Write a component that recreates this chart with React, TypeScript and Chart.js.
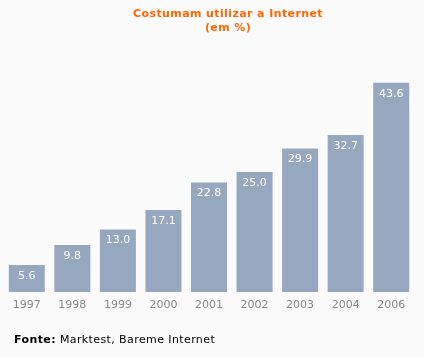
import React, { useEffect, useRef } from "react";
import { Chart, registerables } from "chart.js";

Chart.register(...registerables);

const years = ["1997", "1998", "1999", "2000", "2001", "2002", "2003", "2004", "2006"];
const values = [5.6, 9.8, 13.0, 17.1, 22.8, 25.0, 29.9, 32.7, 43.6];
const titleLines = ["Costumam utilizar a Internet", "(em %)"];
const sourceLabel = "Fonte:";
const sourceText = " Marktest, Bareme Internet";

const FONT = "Verdana, 'DejaVu Sans', sans-serif";

const valueLabels = {
  id: "valueLabels",
  afterDatasetsDraw(chart: any) {
    const ctx = chart.ctx;
    const meta = chart.getDatasetMeta(0);
    ctx.save();
    ctx.fillStyle = "#ffffff";
    ctx.font = `11px ${FONT}`;
    ctx.textAlign = "center";
    ctx.textBaseline = "middle";
    meta.data.forEach((bar: any, i: number) => {
      const v = chart.data.datasets[0].data[i] as number;
      ctx.fillText(v.toFixed(1), bar.x, bar.y + 11);
    });
    ctx.restore();
  },
};

export default function App() {
  const ref = useRef<HTMLCanvasElement>(null);
  useEffect(() => {
    document.body.style.margin = "0";
    const chart = new Chart(ref.current!, {
      type: "bar",
      data: {
        labels: years,
        datasets: [
          {
            data: values,
            backgroundColor: "#96a8bf",
            categoryPercentage: 1,
            barPercentage: 0.79,
          },
        ],
      },
      options: {
        animation: false,
        responsive: false,
        maintainAspectRatio: false,
        layout: { padding: { top: 52, left: 4, right: 10, bottom: 45 } },
        plugins: { legend: { display: false }, tooltip: { enabled: false }, title: { display: false } },
        scales: {
          x: {
            grid: { display: false, drawTicks: false },
            border: { display: false },
            ticks: { color: "#888888", font: { family: FONT, size: 11 }, padding: 7 },
            afterFit: (s: any) => {
              s.height = 20;
            },
          },
          y: {
            display: false,
            min: 0,
            max: 50,
          },
        },
      },
      plugins: [valueLabels],
    });
    return () => chart.destroy();
  }, []);
  return (
    <div style={{ position: "relative", width: 424, height: 357, background: "#fbfbfb", overflow: "hidden" }}>
      <canvas ref={ref} width={424} height={357} style={{ position: "absolute", left: 0, top: 0 }} />
      <div
        style={{
          position: "absolute",
          left: 108,
          width: 240,
          top: 7,
          textAlign: "center",
          color: "#ff6600",
          fontFamily: FONT,
          fontWeight: "bold",
          fontSize: 11,
          lineHeight: "14px",
          letterSpacing: "0.4px",
          whiteSpace: "nowrap",
        }}
      >
        {titleLines.map((t) => (
          <div key={t}>{t}</div>
        ))}
      </div>
      <div
        style={{
          position: "absolute",
          left: 14,
          top: 333,
          color: "#000",
          fontFamily: FONT,
          fontSize: 11,
          letterSpacing: "0.4px",
          whiteSpace: "nowrap",
        }}
      >
        <b>{sourceLabel}</b>
        {sourceText}
      </div>
    </div>
  );
}
